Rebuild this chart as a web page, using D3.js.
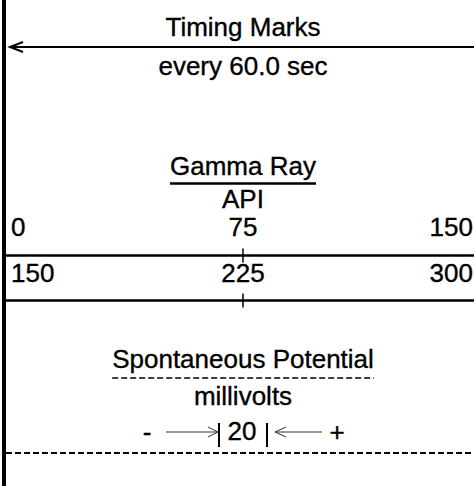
<!DOCTYPE html>
<html>
<head>
<meta charset="utf-8">
<script src="https://cdn.jsdelivr.net/npm/d3@7"></script>
<style>
  body { margin: 0; background: #fff; }
  svg { display: block; font-family: "Liberation Sans", Arial, sans-serif; }
</style>
</head>
<body>
<svg id="hdr" width="474" height="486"></svg>
<script>
// header data
const timingTitle = "Timing Marks";
const timingNote = "every 60.0 sec";
const grTitle = "Gamma Ray";
const grUnit = "API";
const grScale1 = [0, 75, 150];
const grScale2 = [150, 225, 300];
const spTitle = "Spontaneous Potential";
const spUnit = "millivolts";
const spDivision = 20;

const svg = d3.select("#hdr");
const W = 474, H = 486;

// track spans a bit past the right edge
const x = d3.scaleLinear().domain([0, 150]).range([6, 480]);
const mid = x(75);
const fs = 26;

function label(t, cx, y, anchor) {
  return svg.append("text")
    .attr("x", cx).attr("y", y)
    .attr("text-anchor", anchor || "middle")
    .attr("font-size", fs)
    .attr("fill", "#000")
    .attr("stroke", "#000")
    .attr("stroke-width", 0.35)
    .text(t);
}

// left track border
svg.append("line")
  .attr("x1", 4).attr("x2", 4).attr("y1", 0).attr("y2", H)
  .attr("stroke", "#000").attr("stroke-width", 4);

/////
// Timing marks
/////
label(timingTitle, mid, 36);
svg.append("line")
  .attr("x1", 10).attr("x2", W).attr("y1", 47).attr("y2", 47)
  .attr("stroke", "#000").attr("stroke-width", 2);
svg.append("path")
  .attr("d", "M23,42L10,47L23,52")
  .attr("fill", "none").attr("stroke", "#000").attr("stroke-width", 2);
label(timingNote, mid, 75);

/////
// Gamma ray
/////
const gt = label(grTitle, mid, 175);
const gw = gt.node().getComputedTextLength();
svg.append("line")
  .attr("x1", mid - gw / 2).attr("x2", mid + gw / 2)
  .attr("y1", 183.5).attr("y2", 183.5)
  .attr("stroke", "#000").attr("stroke-width", 2.5);
label(grUnit, mid, 208);

function scaleRow(vals, baseY, lineY) {
  const xs = d3.scaleLinear().domain([vals[0], vals[2]]).range(x.range());
  label(vals[0], xs(vals[0]) + 5, baseY, "start");
  label(vals[1], xs(vals[1]), baseY, "middle");
  label(vals[2], W - 1, baseY, "end");
  svg.append("line")
    .attr("x1", 4).attr("x2", W).attr("y1", lineY).attr("y2", lineY)
    .attr("stroke", "#000").attr("stroke-width", 2.5);
  svg.append("line")
    .attr("x1", xs(vals[1])).attr("x2", xs(vals[1]))
    .attr("y1", lineY - 7).attr("y2", lineY + 7)
    .attr("stroke", "#000").attr("stroke-width", 1.5);
}
scaleRow(grScale1, 236, 255.5);
scaleRow(grScale2, 282, 300.5);

/////
// Spontaneous potential
/////
const st = label(spTitle, mid, 368);
const sw = st.node().getComputedTextLength();
svg.append("line")
  .attr("x1", mid - sw / 2).attr("x2", mid + sw / 2)
  .attr("y1", 378).attr("y2", 378)
  .attr("stroke", "#000").attr("stroke-width", 1.5)
  .attr("stroke-dasharray", "6,3");
label(spUnit, mid, 405);

// - --->| 20 |<--- +
const ay = 432;
const barL = 219, barR = 267;
label("-", 147, 441);
svg.append("line")
  .attr("x1", 166).attr("x2", barL - 1).attr("y1", ay).attr("y2", ay)
  .attr("stroke", "#333").attr("stroke-width", 1);
svg.append("path")
  .attr("d", `M${barL - 11},${ay - 5}L${barL - 1},${ay}L${barL - 11},${ay + 5}`)
  .attr("fill", "none").attr("stroke", "#333").attr("stroke-width", 1);
[barL, barR].forEach(bx => {
  svg.append("line")
    .attr("x1", bx).attr("x2", bx).attr("y1", ay - 9).attr("y2", ay + 15)
    .attr("stroke", "#000").attr("stroke-width", 2);
});
label(spDivision, (barL + barR) / 2 - 1, 440);
svg.append("line")
  .attr("x1", barR + 8).attr("x2", 322).attr("y1", ay).attr("y2", ay)
  .attr("stroke", "#333").attr("stroke-width", 1);
svg.append("path")
  .attr("d", `M${barR + 19},${ay - 5}L${barR + 8},${ay}L${barR + 19},${ay + 5}`)
  .attr("fill", "none").attr("stroke", "#333").attr("stroke-width", 1);
label("+", 337, 441);

// SP baseline
svg.append("line")
  .attr("x1", 6).attr("x2", W).attr("y1", 453).attr("y2", 453)
  .attr("stroke", "#000").attr("stroke-width", 2)
  .attr("stroke-dasharray", "6,3");
</script>
</body>
</html>
